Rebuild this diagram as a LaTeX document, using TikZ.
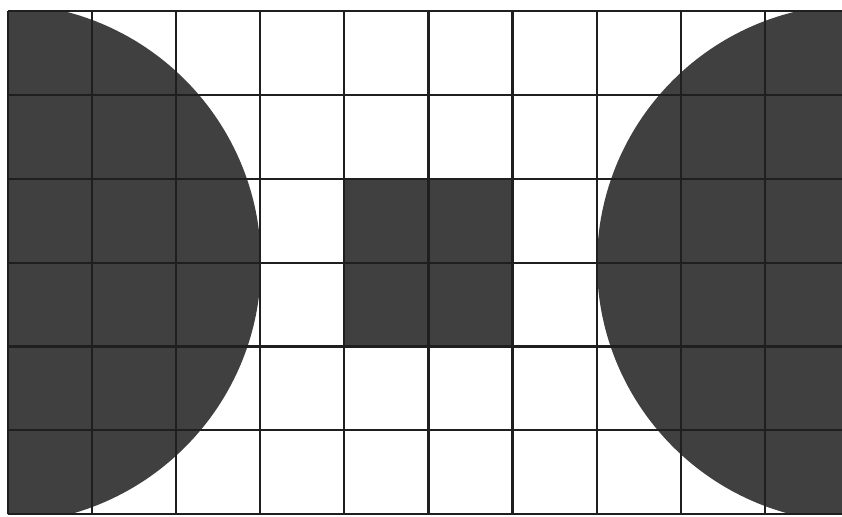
\documentclass[tikz,border=0pt]{standalone}
\begin{document}
\begin{tikzpicture}[x=1pt,y=-1pt]
\tikzset{
  shade/.style={fill=black!75},
  gridline/.style={draw=black!88,line width=2.2pt}
}
\useasboundingbox (0,0) rectangle (842,516);
\begin{scope}
  \clip (7.9,11.3) rectangle (842,514);
  \fill[shade] (1,263.5) circle (260);
  \fill[shade] (856,263.5) circle (259);
  \fill[shade] (344.3,179.1) rectangle (512.7,348.3);
\end{scope}
\begin{scope}
  \clip (0,0) rectangle (842,516);
  \foreach \i in {0,...,9}
    \draw[gridline] ({7.9+84.1*\i},11.3) -- ({7.9+84.1*\i},514);
  \foreach \j in {0,...,6}
    \draw[gridline] (7.9,{11.3+83.8*\j}) -- (845,{11.3+83.8*\j});
\end{scope}
\end{tikzpicture}
\end{document}
